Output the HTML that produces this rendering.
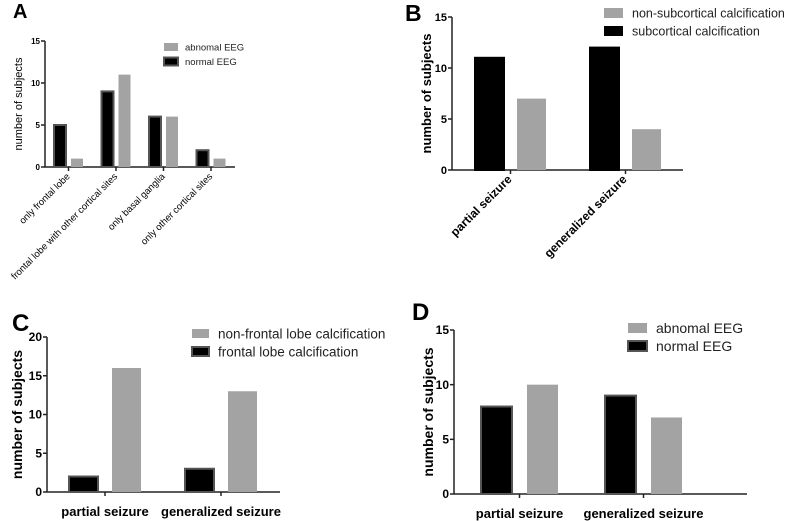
<!DOCTYPE html>
<html><head><meta charset="utf-8"><style>
html,body{margin:0;padding:0;background:#fff;}
svg{display:block;font-family:"Liberation Sans",Arial,sans-serif;}
</style></head><body>
<svg id="fig" width="787" height="521" viewBox="0 0 787 521" xmlns="http://www.w3.org/2000/svg"></svg>
<script>
// Panel A data
const catsA = ["only frontal lobe","frontal lobe with other cortical sites","only basal ganglia","only other cortical sites"];
const normalA = [5, 9, 6, 2];
const abnormalA = [1, 11, 6, 1];
const ticksA = [0, 5, 10, 15];
// Panel B data
const catsB = ["partial seizure","generalized seizure"];
const subcortB = [11, 12];
const nonSubcortB = [7, 4];
const ticksB = [0, 5, 10, 15];
// Panel C data
const catsC = ["partial seizure","generalized seizure"];
const frontalC = [2, 3];
const nonFrontalC = [16, 13];
const ticksC = [0, 5, 10, 15, 20];
// Panel D data
const catsD = ["partial seizure","generalized seizure"];
const normalD = [8, 9];
const abnormalD = [10, 7];
const ticksD = [0, 5, 10, 15];

const NS = "http://www.w3.org/2000/svg";
const svg = document.getElementById("fig");
function mk(tag, attrs, parent, text){
  const e = document.createElementNS(NS, tag);
  for (const k in attrs) e.setAttribute(k, attrs[k]);
  if (text !== undefined) e.textContent = text;
  (parent || svg).appendChild(e);
  return e;
}
const GRAY = "#a3a3a3";

function panel(cfg){
  const g = mk("g", {});
  
  
  const y = v => cfg.y0 - (v / cfg.ymax) * (cfg.y0 - cfg.yTop);
  const L = mk("text", {x: cfg.lx, y: cfg.ly, "font-size": cfg.lsize, "font-weight": "bold"}, g, cfg.letter);
  
  
  const ya = mk("line", {x1: cfg.ax, x2: cfg.ax, y1: y(cfg.ymax), y2: cfg.y0, stroke: "#222", "stroke-width": 1.5}, g);
  
  
  cfg.ticks.forEach(t => {
    mk("line", {x1: cfg.ax - 4, x2: cfg.ax, y1: y(t), y2: y(t), stroke: "#222", "stroke-width": 1.5}, g);
    const tl = mk("text", {x: cfg.ax - 5, y: y(t) + cfg.tsize * 0.35, "font-size": cfg.tsize, "font-weight": "bold", "text-anchor": "end"}, g, String(t));
    
    
  });
  const yt = mk("text", {x: 0, y: 0, "font-size": cfg.ysize, "font-weight": cfg.ybold ? "bold" : "normal", "text-anchor": "middle",
    transform: `translate(${cfg.ylx},${(cfg.y0 + y(cfg.ymax)) / 2}) rotate(-90)`}, g, "number of subjects");
  
  
  const xa = mk("line", {x1: cfg.ax, x2: cfg.axEnd, y1: cfg.y0, y2: cfg.y0, stroke: "#222", "stroke-width": 1.5}, g);
  
  
  cfg.cats.forEach((c, i) => {
    const gx = cfg.g0 + i * cfg.gstep;
    const tx = gx + cfg.bw + cfg.gap / 2;
    mk("line", {x1: tx, x2: tx, y1: cfg.y0, y2: cfg.y0 + 4, stroke: "#222", "stroke-width": 1.5}, g);
    const v1 = cfg.s1[i];
    const b1 = mk("rect", {x: gx, y: y(v1), width: cfg.bw, height: cfg.y0 - y(v1), fill: "#000", stroke: cfg.s1stroke, "stroke-width": 2}, g);
    
    
    const v2 = cfg.s2[i];
    const b2 = mk("rect", {x: gx + cfg.bw + cfg.gap, y: y(v2), width: cfg.bw, height: cfg.y0 - y(v2), fill: GRAY}, g);
    
    
    let xl;
    if (cfg.rot) {
      xl = mk("text", {x: 0, y: 0, "font-size": cfg.xsize, "font-weight": cfg.xbold ? "bold" : "normal", "text-anchor": "end",
        transform: `translate(${tx + 2},${cfg.y0 + 10}) rotate(-45)`}, g, c);
    } else {
      xl = mk("text", {x: tx, y: cfg.y0 + 24, "font-size": cfg.xsize, "font-weight": "bold", "text-anchor": "middle"}, g, c);
    }
    
    
  });
  cfg.legend.forEach((le, k) => {
    const ly = cfg.legY + k * cfg.legStep;
    const sw = mk("rect", {x: cfg.legX, y: ly, width: cfg.legW, height: cfg.legH, fill: le.fill, stroke: le.stroke || "none", "stroke-width": le.stroke ? 2 : 0}, g);
    
    
    const lt = mk("text", {x: cfg.legTx, y: ly + cfg.legH / 2 + cfg.legSize * 0.36, "font-size": cfg.legSize, fill: "#222"}, g, le.label);
    
    
  });
}

panel({name: "panel-a", letter: "A", lx: 13, ly: 18, lsize: 20,
  ax: 45, axEnd: 235, y0: 167, yTop: 41, ymax: 15, ticks: ticksA, tsize: 8, ylx: 22, ysize: 11, ybold: false,
  cats: catsA, s1: normalA, s2: abnormalA, s1name: "normal-eeg", s2name: "abnormal-eeg", s1stroke: "#555",
  g0: 54, gstep: 47.5, bw: 12, gap: 5, rot: true, xsize: 9.5, xbold: false,
  legend: [{fill: GRAY, label: "abnomal EEG"}, {fill: "#000", stroke: "#555", label: "normal EEG"}],
  legX: 164, legY: 43, legStep: 14.5, legW: 14, legH: 8, legTx: 185, legSize: 9.5});

panel({name: "panel-b", letter: "B", lx: 405, ly: 21, lsize: 23,
  ax: 452, axEnd: 683, y0: 170, yTop: 17, ymax: 15, ticks: ticksB, tsize: 11, ylx: 431, ysize: 13, ybold: true,
  cats: catsB, s1: subcortB, s2: nonSubcortB, s1name: "subcortical", s2name: "non-subcortical", s1stroke: "#000",
  g0: 475, gstep: 115, bw: 29, gap: 13, rot: true, xsize: 12, xbold: true,
  legend: [{fill: GRAY, label: "non-subcortical calcification"}, {fill: "#000", label: "subcortical calcification"}],
  legX: 604, legY: 8, legStep: 18, legW: 19, legH: 10, legTx: 632, legSize: 12.5});

panel({name: "panel-c", letter: "C", lx: 12, ly: 331, lsize: 24,
  ax: 47, axEnd: 280, y0: 492, yTop: 337, ymax: 20, ticks: ticksC, tsize: 12, ylx: 22, ysize: 14, ybold: true,
  cats: catsC, s1: frontalC, s2: nonFrontalC, s1name: "frontal-lobe", s2name: "non-frontal-lobe", s1stroke: "#555",
  g0: 69, gstep: 116, bw: 29, gap: 14, rot: false, xsize: 13,
  legend: [{fill: GRAY, label: "non-frontal lobe calcification"}, {fill: "#000", stroke: "#555", label: "frontal lobe calcification"}],
  legX: 192, legY: 329, legStep: 18, legW: 17, legH: 9, legTx: 218, legSize: 13.5});

panel({name: "panel-d", letter: "D", lx: 412, ly: 320, lsize: 24,
  ax: 454, axEnd: 747, y0: 494, yTop: 330, ymax: 15, ticks: ticksD, tsize: 12, ylx: 433, ysize: 14, ybold: true,
  cats: catsD, s1: normalD, s2: abnormalD, s1name: "normal-eeg", s2name: "abnormal-eeg", s1stroke: "#555",
  g0: 481, gstep: 124, bw: 31, gap: 15, rot: false, xsize: 13,
  legend: [{fill: GRAY, label: "abnomal EEG"}, {fill: "#000", stroke: "#555", label: "normal EEG"}],
  legX: 628, legY: 323, legStep: 18, legW: 19, legH: 10, legTx: 656, legSize: 14});
</script>
</body></html>
